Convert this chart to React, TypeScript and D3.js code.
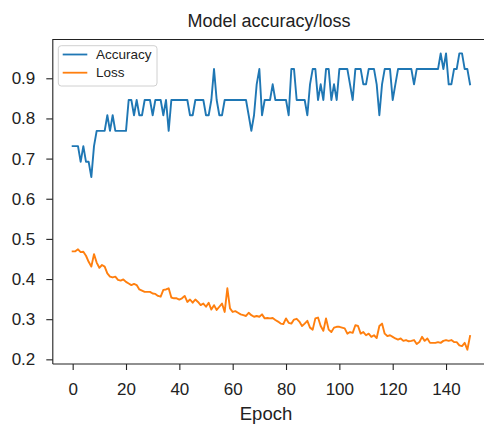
import React, { useRef, useEffect } from 'react';
import * as d3 from 'd3';

// accuracy per epoch (0..149)
const accuracy = [
  0.731, 0.731, 0.731, 0.692, 0.731, 0.692, 0.692, 0.654, 0.731, 0.769,
  0.769, 0.769, 0.769, 0.808, 0.769, 0.808, 0.769, 0.769, 0.769, 0.769,
  0.769, 0.846, 0.846, 0.808, 0.846, 0.808, 0.808, 0.846, 0.846, 0.846,
  0.808, 0.846, 0.846, 0.846, 0.808, 0.846, 0.769, 0.846, 0.846, 0.846,
  0.846, 0.846, 0.846, 0.846, 0.808, 0.808, 0.846, 0.846, 0.846, 0.846,
  0.808, 0.808, 0.846, 0.923, 0.846, 0.808, 0.808, 0.846, 0.846, 0.846,
  0.846, 0.846, 0.846, 0.846, 0.846, 0.846, 0.808, 0.769, 0.808, 0.885,
  0.923, 0.808, 0.846, 0.846, 0.846, 0.885, 0.846, 0.846, 0.846, 0.846,
  0.846, 0.808, 0.923, 0.923, 0.846, 0.846, 0.846, 0.846, 0.808, 0.885,
  0.923, 0.923, 0.846, 0.885, 0.846, 0.923, 0.923, 0.846, 0.885, 0.846,
  0.923, 0.923, 0.923, 0.923, 0.885, 0.846, 0.923, 0.923, 0.923, 0.885,
  0.885, 0.923, 0.923, 0.923, 0.885, 0.808, 0.885, 0.923, 0.923, 0.923,
  0.846, 0.885, 0.923, 0.923, 0.923, 0.923, 0.923, 0.923, 0.885, 0.923,
  0.923, 0.923, 0.923, 0.923, 0.923, 0.923, 0.923, 0.923, 0.962, 0.923,
  0.962, 0.885, 0.885, 0.923, 0.923, 0.962, 0.962, 0.923, 0.923, 0.885,
];

// loss per epoch (0..149)
const loss = [
  0.469, 0.469, 0.474, 0.467, 0.468, 0.458, 0.443, 0.431, 0.462, 0.441,
  0.428, 0.435, 0.431, 0.414, 0.406, 0.404, 0.406, 0.398, 0.396, 0.399,
  0.393, 0.389, 0.385, 0.388, 0.385, 0.374, 0.371, 0.368, 0.368, 0.368,
  0.364, 0.363, 0.358, 0.356, 0.373, 0.374, 0.377, 0.354, 0.352, 0.352,
  0.349, 0.352, 0.358, 0.343, 0.349, 0.341, 0.349, 0.343, 0.335, 0.339,
  0.331, 0.341, 0.324, 0.335, 0.323, 0.331, 0.339, 0.318, 0.377, 0.327,
  0.318, 0.320, 0.316, 0.312, 0.310, 0.308, 0.316, 0.310, 0.306, 0.308,
  0.306, 0.312, 0.302, 0.303, 0.302, 0.303, 0.298, 0.294, 0.289, 0.288,
  0.302, 0.291, 0.289, 0.299, 0.301, 0.294, 0.283, 0.289, 0.296, 0.279,
  0.274, 0.302, 0.304, 0.283, 0.271, 0.302, 0.274, 0.268, 0.279, 0.281,
  0.281, 0.279, 0.277, 0.264, 0.268, 0.266, 0.285, 0.283, 0.264, 0.268,
  0.260, 0.264, 0.256, 0.260, 0.253, 0.283, 0.289, 0.264, 0.258, 0.260,
  0.256, 0.252, 0.249, 0.252, 0.246, 0.248, 0.245, 0.246, 0.248, 0.238,
  0.243, 0.256, 0.246, 0.252, 0.241, 0.241, 0.241, 0.243, 0.241, 0.246,
  0.248, 0.246, 0.248, 0.243, 0.243, 0.235, 0.233, 0.241, 0.224, 0.258,
];

const xTicks = [0, 20, 40, 60, 80, 100, 120, 140];
const yTicks = [0.2, 0.3, 0.4, 0.5, 0.6, 0.7, 0.8, 0.9];
const seriesNames = ['Accuracy', 'Loss'];
const seriesColors = ['#1f77b4', '#ff7f0e'];

const FONT = '"Liberation Sans", Arial, Helvetica, sans-serif';

const App = () => {
  const svgRef = useRef(null);
  const width = 484;
  const height = 424;

  useEffect(() => {
    const svg = d3.select(svgRef.current);
    svg.selectAll('*').remove();

    // plot box
    const left = 52.8;
    const right = 489.9;
    const top = 39.5;
    const bottom = 364;

    const xScale = d3.scaleLinear().domain([-7.45, 156.45]).range([left, right]);
    const yScale = d3.scaleLinear().domain([0.1884, 0.9966]).range([bottom, top]);

    const line = d3
      .line<number>()
      .x((d, i) => xScale(i))
      .y(d => yScale(d));

    // lines
    [accuracy, loss].forEach((series, k) => {
      svg
        .append('path')
        .datum(series)
        .attr('d', line)
        .attr('fill', 'none')
        .attr('stroke', seriesColors[k])
        .attr('stroke-width', 1.9)
        .attr('stroke-linejoin', 'round')
        .attr('stroke-linecap', 'square');
    });

    // spines
    svg
      .append('path')
      .attr('d', `M${left},${bottom}V${top}H${right}`)
      .attr('fill', 'none')
      .attr('stroke', '#222')
      .attr('stroke-width', 1.1);
    svg
      .append('line')
      .attr('x1', left)
      .attr('x2', right)
      .attr('y1', bottom)
      .attr('y2', bottom)
      .attr('stroke', '#222')
      .attr('stroke-width', 1.1);

    // x axis
    const xAxis = svg
      .append('g')
      .attr('transform', `translate(0,${bottom})`)
      .call(
        d3.axisBottom(xScale)
          .tickValues(xTicks)
          .tickSize(6)
          .tickPadding(13)
          .tickFormat(d3.format('d'))
      );
    xAxis.select('.domain').remove();
    xAxis.selectAll('line').attr('stroke', '#222').attr('stroke-width', 1.1);
    xAxis
      .selectAll('text')
      .attr('font-family', FONT)
      .attr('font-size', 17)
      .attr('fill', '#222');

    // y axis
    const yAxis = svg
      .append('g')
      .attr('transform', `translate(${left},0)`)
      .call(
        d3.axisLeft(yScale)
          .tickValues(yTicks)
          .tickSize(6.5)
          .tickPadding(11)
          .tickFormat(d3.format('.1f'))
      );
    yAxis.select('.domain').remove();
    yAxis.selectAll('line').attr('stroke', '#222').attr('stroke-width', 1.1);
    yAxis
      .selectAll('text')
      .attr('font-family', FONT)
      .attr('font-size', 17)
      .attr('fill', '#222');

    // legend
    const legend = svg.append('g');
    legend
      .append('rect')
      .attr('x', 58.3)
      .attr('y', 45.7)
      .attr('width', 98.7)
      .attr('height', 40.3)
      .attr('rx', 3)
      .attr('fill', '#fff')
      .attr('fill-opacity', 0.8)
      .attr('stroke', '#d0d0d0')
      .attr('stroke-width', 1);
    seriesNames.forEach((name, k) => {
      const ly = 54.5 + k * 18.2;
      legend
        .append('line')
        .attr('x1', 62.7)
        .attr('x2', 87.3)
        .attr('y1', ly)
        .attr('y2', ly)
        .attr('stroke', seriesColors[k])
        .attr('stroke-width', 1.8);
      legend
        .append('text')
        .attr('x', 96)
        .attr('y', ly)
        .attr('dy', '0.35em')
        .attr('font-family', FONT)
        .attr('font-size', 13.5)
        .attr('fill', '#222')
        .text(name);
    });

    // title
    svg
      .append('text')
      .attr('x', 269)
      .attr('y', 27)
      .attr('text-anchor', 'middle')
      .attr('font-family', FONT)
      .attr('font-size', 18)
      .attr('fill', '#222')
      .text('Model accuracy/loss');

    // x label
    svg
      .append('text')
      .attr('x', 266)
      .attr('y', 420)
      .attr('text-anchor', 'middle')
      .attr('font-family', FONT)
      .attr('font-size', 18.5)
      .attr('fill', '#222')
      .text('Epoch');
  }, []);

  return (
    <svg
      ref={svgRef}
      width={width}
      height={height}
      style={{ position: 'absolute', left: 0, top: 0, background: '#fff' }}
    />
  );
};

export default App;
